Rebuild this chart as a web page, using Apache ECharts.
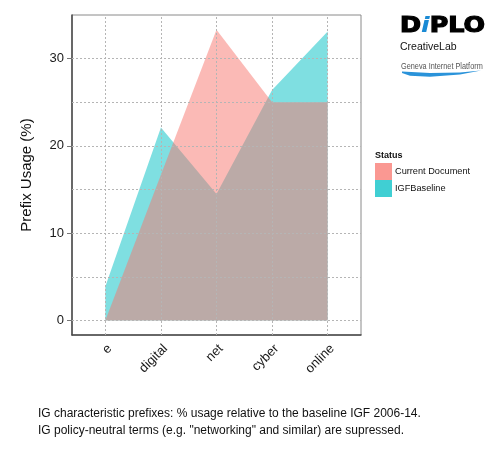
<!DOCTYPE html>
<html lang="en">
<head>
    <meta charset="UTF-8" />
    <title>IG characteristic prefixes</title>
    <script src="https://cdn.jsdelivr.net/npm/echarts@6/dist/echarts.min.js"></script>
    <style>
        body { margin: 0; background: #fff; }
        #chart { width: 500px; height: 450px; }
    </style>
</head>
<body>
<div id="chart"></div>
<script>
    // categories and values
    const categories = ['e', 'digital', 'net', 'cyber', 'online'];
    const currentDocument = [0, 16.7, 33.3, 25, 25];
    const igfBaseline = [3.9, 22.1, 14.5, 26.4, 33.1];
    const yTicks = [0, 10, 20, 30];
    const yMinorGrid = [5, 15, 25];
    const xTicks = categories.map((c, i) => i);

    const font = '"Liberation Sans", Arial, sans-serif';
    const gridStyle = { color: '#b5b5b5', type: [2, 2], width: 1 };

    // ggplot-like grid lines (major + minor), drawn under the areas
    const gridLines = []
        .concat(yTicks.map(v => ({ yAxis: v })))
        .concat(yMinorGrid.map(v => ({ yAxis: v })))
        .concat(xTicks.map(v => ({ xAxis: v })));

    const chart = echarts.init(document.getElementById('chart'), null, { renderer: 'canvas' });

    const option = {
        animation: false,
        textStyle: { fontFamily: font },
        grid: {
            left: 72, right: 139, top: 15, bottom: 115,
            show: true, borderColor: '#8a8a8a', borderWidth: 1, backgroundColor: '#fff'
        },
        xAxis: {
            type: 'value',
            min: -0.6,
            max: 4.6,
            axisLine: { show: true, onZero: false, lineStyle: { color: '#4a4a4a', width: 1.5 } },
            axisTick: { show: false },
            axisLabel: {
                customValues: xTicks,
                formatter: v => categories[Math.round(v)] || '',
                rotate: 45,
                verticalAlign: 'top',
                margin: 7,
                fontSize: 13,
                color: '#1a1a1a',
                fontFamily: font
            },
            splitLine: { show: false }
        },
        yAxis: {
            type: 'value',
            min: -1.667,
            max: 35,
            name: 'Prefix Usage (%)',
            nameLocation: 'middle',
            nameGap: 38,
            nameTextStyle: { fontSize: 15, color: '#111', fontFamily: font },
            axisLine: { show: true, onZero: false, lineStyle: { color: '#4a4a4a', width: 1.5 } },
            axisTick: { show: true, customValues: yTicks, length: 5, lineStyle: { color: '#777' } },
            axisLabel: { customValues: yTicks, fontSize: 13, color: '#1a1a1a', margin: 8, fontFamily: font },
            splitLine: { show: false }
        },
        legend: {
            left: 375,
            top: 163,
            padding: 0,
            orient: 'vertical',
            icon: 'rect',
            itemWidth: 17,
            itemHeight: 17,
            itemGap: 0,
            selectedMode: false,
            textStyle: { fontSize: 9.2, color: '#111', fontFamily: font, padding: [0, 0, 0, -2] },
            data: [
                { name: 'Current Document', itemStyle: { color: 'rgba(248,118,109,0.75)' } },
                { name: 'IGFBaseline', itemStyle: { color: 'rgba(0,191,196,0.75)' } }
            ]
        },
        series: [
            {
                name: 'grid',
                type: 'line',
                data: [],
                z: 0,
                silent: true,
                markLine: {
                    silent: true,
                    symbol: 'none',
                    label: { show: false },
                    lineStyle: gridStyle,
                    data: gridLines
                }
            },
            {
                name: 'IGFBaseline',
                type: 'line',
                z: 2,
                data: igfBaseline.map((v, i) => [i, v]),
                showSymbol: false,
                lineStyle: { width: 0 },
                itemStyle: { color: '#00BFC4' },
                areaStyle: { color: '#00BFC4', opacity: 0.5 }
            },
            {
                name: 'Current Document',
                type: 'line',
                z: 3,
                data: currentDocument.map((v, i) => [i, v]),
                showSymbol: false,
                lineStyle: { width: 0 },
                itemStyle: { color: '#F8766D' },
                areaStyle: { color: '#F8766D', opacity: 0.5 }
            }
        ],
        graphic: [
            // legend title
            { type: 'text', x: 375, y: 151, style: { text: 'Status', font: 'bold 9px ' + font, fill: '#111' } },
            // DiPLO logo
            {
                type: 'text', x: 400, y: 15, scaleX: 1.15,
                style: {
                    text: '{a|D}{b|i}{a|PLO}',
                    rich: {
                        a: { fontFamily: '"DejaVu Sans", sans-serif', fontWeight: 'bold', fontSize: 22, fill: '#000', stroke: '#000', lineWidth: 1.2 },
                        b: { fontFamily: '"DejaVu Sans", sans-serif', fontWeight: 'bold', fontStyle: 'italic', fontSize: 22, fill: '#1a8ad4' }
                    }
                }
            },
            { type: 'text', x: 400, y: 42, style: { text: 'CreativeLab', font: '10.5px ' + font, fill: '#111' } },
            { type: 'text', x: 401, y: 61, scaleX: 0.77, style: { text: 'Geneva Internet Platform', font: '9.5px ' + font, fill: '#555' } },
            {
                type: 'polygon',
                shape: { points: [[402, 71.5], [430, 73], [460, 72.5], [481, 70.5], [460, 74.5], [430, 76.7], [410, 75.8], [402, 73]] },
                style: { fill: '#2a93da' }
            },
            // caption
            {
                type: 'text', x: 38, y: 405,
                style: {
                    text: 'IG characteristic prefixes: % usage relative to the baseline IGF 2006-14.\nIG policy-neutral terms (e.g. "networking" and similar) are supressed.',
                    font: '12px ' + font, fill: '#111', lineHeight: 17
                }
            }
        ]
    };

    chart.setOption(option);
</script>
</body>
</html>
